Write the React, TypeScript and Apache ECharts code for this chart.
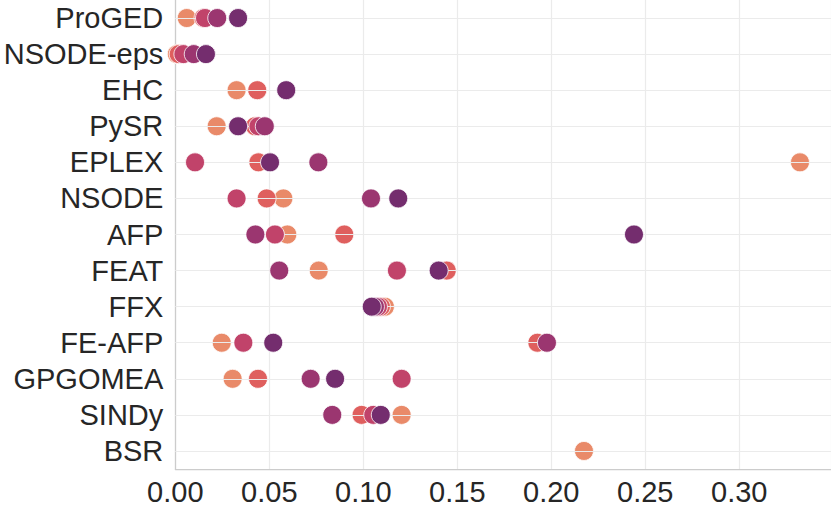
import React, { useEffect, useRef } from "react";
import * as echarts from "echarts";

const categories = [
  "ProGED", "NSODE-eps", "EHC", "PySR", "EPLEX", "NSODE", "AFP",
  "FEAT", "FFX", "FE-AFP", "GPGOMEA", "SINDy", "BSR",
];

const seriesNames = ["level 1", "level 2", "level 3", "level 4", "level 5"];
const seriesColors = ["#E98A69", "#DF5F5E", "#C1436A", "#9B3670", "#742D6E"];

// values per category, in category order (null = not present)
const level1 = [0.0061, 0.0008, 0.0326, 0.022, 0.3323, 0.0575, 0.0596, 0.0763, 0.1115, 0.0247, 0.0305, 0.1204, 0.2174];
const level2 = [0.015, 0.0018, 0.0436, 0.0424, 0.0442, 0.0486, 0.0899, 0.1444, 0.1094, 0.1926, 0.044, 0.0991, null];
const level3 = [0.0158, 0.0043, null, 0.0442, 0.0105, 0.0326, 0.053, 0.1179, 0.1078, 0.0362, 0.1204, 0.1053, null];
const level4 = [0.0223, 0.0098, null, 0.0476, 0.0761, 0.1041, 0.0426, 0.0553, 0.1062, 0.1977, 0.072, 0.0835, null];
const level5 = [0.0334, 0.0163, 0.059, 0.0334, 0.0504, 0.1186, 0.244, 0.1401, 0.1045, 0.0521, 0.085, 0.1093, null];

const xTicks = [0, 0.05, 0.1, 0.15, 0.2, 0.25, 0.3];
const xMax = 0.3488;

const allLevels = [level1, level2, level3, level4, level5];

export default function App() {
  const ref = useRef<HTMLDivElement>(null);
  useEffect(() => {
    if (!ref.current) return;
    const chart = echarts.init(ref.current, undefined, { renderer: "svg" });
    const font = "'Liberation Sans', Arial, sans-serif";
    const series: any[] = allLevels.map((vals, si) => ({
      type: "scatter",
      name: seriesNames[si],
      symbolSize: 19,
      itemStyle: { color: seriesColors[si], borderColor: "#ffffff", borderWidth: 0.8, opacity: 1 },
      data: vals
        .map((v, ci) => (v === null ? null : [v, categories[ci]]))
        .filter((d) => d !== null),
      z: 3 + si,
    }));
    // horizontal grid lines at category centres
    series.push({
      type: "scatter",
      name: "grid",
      data: [],
      silent: true,
      z: 1,
      markLine: {
        silent: true,
        symbol: "none",
        label: { show: false },
        animation: false,
        lineStyle: { color: "#EBEBEB", width: 1.2, type: "solid" },
        data: categories.map((c) => ({ yAxis: c })),
      },
    });
    chart.setOption({
      animation: false,
      grid: { left: 175.3, right: 0, top: 0, bottom: 38, containLabel: false },
      xAxis: {
        type: "value",
        min: 0,
        max: xMax,
        interval: 0.05,
        axisLine: { show: true, lineStyle: { color: "#CCCCCC", width: 1.25 } },
        axisTick: { show: false },
        splitLine: { show: true, lineStyle: { color: "#EBEBEB", width: 1.2 } },
        axisLabel: {
          showMaxLabel: false,
          margin: 8,
          color: "#262626",
          fontSize: 29,
          fontFamily: font,
          formatter: (v: number) => (xTicks.some((t) => Math.abs(t - v) < 1e-9) ? v.toFixed(2) : ""),
        },
      },
      yAxis: {
        type: "category",
        data: categories,
        inverse: true,
        axisLine: { show: true, lineStyle: { color: "#CCCCCC", width: 1.25 } },
        axisTick: { show: false },
        splitLine: { show: false },
        axisLabel: {
          interval: 0,
          margin: 12,
          color: "#262626",
          fontSize: 29,
          fontFamily: font,
        },
      },
      series,
    });
    return () => chart.dispose();
  }, []);
  return <div ref={ref} style={{ width: 831, height: 507, position: "absolute", left: 0, top: 0 }} />;
}
